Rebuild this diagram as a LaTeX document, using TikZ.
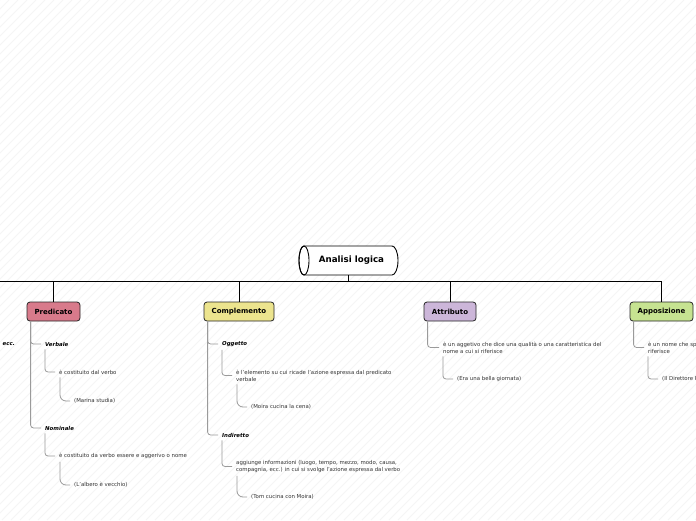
\documentclass[tikz,border=0pt]{standalone}
\usepackage{fontspec}
\setmainfont{DejaVu Sans}
\definecolor{predc}{HTML}{D87A8B}
\definecolor{compc}{HTML}{ECE48E}
\definecolor{attrc}{HTML}{CCB6D9}
\definecolor{appoc}{HTML}{C6E391}
\definecolor{linec}{HTML}{9A9A9A}
\definecolor{txtc}{HTML}{333333}
\tikzset{
  bgline/.style={draw=black!4, line width=0.8pt},
  mainline/.style={draw=black, line width=0.8pt},
  sub/.style={draw=linec, line width=0.8pt, rounded corners=3pt},
  subcurve/.style={draw=linec, line width=0.8pt, rounded corners=6pt},
  cat/.style={draw=black!85, line width=0.8pt, rounded corners=3pt, minimum height=19pt, inner sep=0pt, font=\fontsize{7}{8}\selectfont\bfseries},
  lvlone/.style={anchor=west, inner sep=0pt, font=\fontsize{5.4}{7}\selectfont\bfseries\itshape},
  desc/.style={anchor=west, inner sep=0pt, align=left, text=txtc, font=\fontsize{5.4}{7}\selectfont},
}
\begin{document}
\begin{tikzpicture}[x=1pt,y=-1pt]
\useasboundingbox (0,0) rectangle (696,520);
\begin{scope}
\clip (0,0) rectangle (696,520);
\fill[white] (0,0) rectangle (696,520);
\foreach \i in {-520,-511,...,696} \draw[bgline] (\i,520) -- (\i+520,0);

% root cylinder
\draw[fill=white, line width=0.9pt] (304,246) -- (392,246) arc[start angle=90, end angle=-90, x radius=6pt, y radius=14.5pt] -- (304,275) arc[start angle=270, end angle=90, x radius=5pt, y radius=14.5pt] -- cycle;
\draw[line width=0.9pt] (304,260.5) ellipse[x radius=5pt, y radius=14.5pt];
\node[minimum width=99pt, minimum height=29pt, inner sep=0pt, font=\fontsize{8.7}{10}\selectfont\bfseries] (root) at (348.5,260.5) {\hspace*{6pt}Analisi logica};

% category boxes
\node[cat, fill=predc, minimum width=53pt] (pred) at (53.5,311.5) {Predicato};
\node[cat, fill=compc, minimum width=70pt] (comp) at (239,311.5) {Complemento};
\node[cat, fill=attrc, minimum width=52pt] (attr) at (450,311.5) {Attributo};
\node[cat, fill=appoc, minimum width=63pt] (appo) at (661.5,311.5) {Apposizione};

\coordinate (bus) at (348.5,281);
\coordinate (offl) at (-5,281);
\draw[mainline] (root.south) -- (bus);
\draw[mainline] (bus) -- (offl);
\draw[mainline] (bus) -| (pred.north);
\draw[mainline] (bus) -| (comp.north);
\draw[mainline] (bus) -| (attr.north);
\draw[mainline] (bus) -| (appo.north);

% cut-off branch on the left
\node[lvlone] (ecc) at (2.5,344) {ecc.};

% Predicato
\node[lvlone] (verb) at (45,344) {Verbale};
\node[desc] (verbd) at (59,372) {è costituito dal verbo};
\node[desc] (verbe) at (74,401) {(Marina studia)};
\node[lvlone] (nom) at (45,428) {Nominale};
\node[desc] (nomd) at (59,456) {è costituito da verbo essere e aggerivo o nome};
\node[desc] (nome) at (74,485) {(L'albero è vecchio)};
\draw[sub] ([xshift=4pt]pred.south west) |- ([xshift=-4pt]verb.west);
\draw[sub] ([xshift=4pt]pred.south west) |- ([xshift=-4pt]nom.west);
\draw[sub] ([yshift=-3pt]verb.south west) |- ([xshift=-4pt]verbd.west);
\draw[subcurve] ([xshift=1pt,yshift=-3pt]verbd.south west) |- ([xshift=-4pt]verbe.west);
\draw[sub] ([yshift=-3pt]nom.south west) |- ([xshift=-4pt]nomd.west);
\draw[subcurve] ([xshift=1pt,yshift=-3pt]nomd.south west) |- ([xshift=-4pt]nome.west);

% Complemento
\node[lvlone] (ogg) at (222,344) {Oggetto};
\node[desc] (oggd) at (236,375.5) {è l'elemento su cui ricade l'azione espressa dal predicato\\verbale};
\node[desc] (ogge) at (251,407) {(Moira cucina la cena)};
\node[lvlone] (ind) at (222,435) {Indiretto};
\node[desc] (indd) at (236,466.5) {aggiunge informazioni (luogo, tempo, mezzo, modo, causa,\\compagnia, ecc.) in cui si svolge l'azione espressa dal verbo};
\node[desc] (inde) at (251,497) {(Tom cucina con Moira)};
\draw[sub] ([xshift=4pt]comp.south west) |- ([xshift=-4pt]ogg.west);
\draw[sub] ([xshift=4pt]comp.south west) |- ([xshift=-4pt]ind.west);
\draw[sub] ([yshift=-3pt]ogg.south west) |- ([xshift=-4pt]oggd.west);
\draw[subcurve] ([xshift=1pt,yshift=-3pt]oggd.south west) |- ([xshift=-4pt]ogge.west);
\draw[sub] ([yshift=-3pt]ind.south west) |- ([xshift=-4pt]indd.west);
\draw[subcurve] ([xshift=1pt,yshift=-3pt]indd.south west) |- ([xshift=-4pt]inde.west);

% Attributo
\node[desc] (attd) at (443,347.5) {è un aggetivo che dice una qualità o una caratteristica del\\nome a cui si riferisce};
\node[desc] (atte) at (457,379) {(Era una bella giornata)};
\draw[sub] ([xshift=4pt]attr.south west) |- ([xshift=-4pt]attd.west);
\draw[sub] ([yshift=-3pt]attd.south west) |- ([xshift=-4pt]atte.west);

% Apposizione
\node[desc] (appd) at (648,347.5) {è un nome che specifica un altro nome a cui si\\riferisce};
\node[desc] (appe) at (662,379) {(Il Direttore Rossi è arrivato)};
\draw[sub] ([xshift=4pt]appo.south west) |- ([xshift=-4pt]appd.west);
\draw[sub] ([yshift=-3pt]appd.south west) |- ([xshift=-4pt]appe.west);
\end{scope}
\end{tikzpicture}
\end{document}
